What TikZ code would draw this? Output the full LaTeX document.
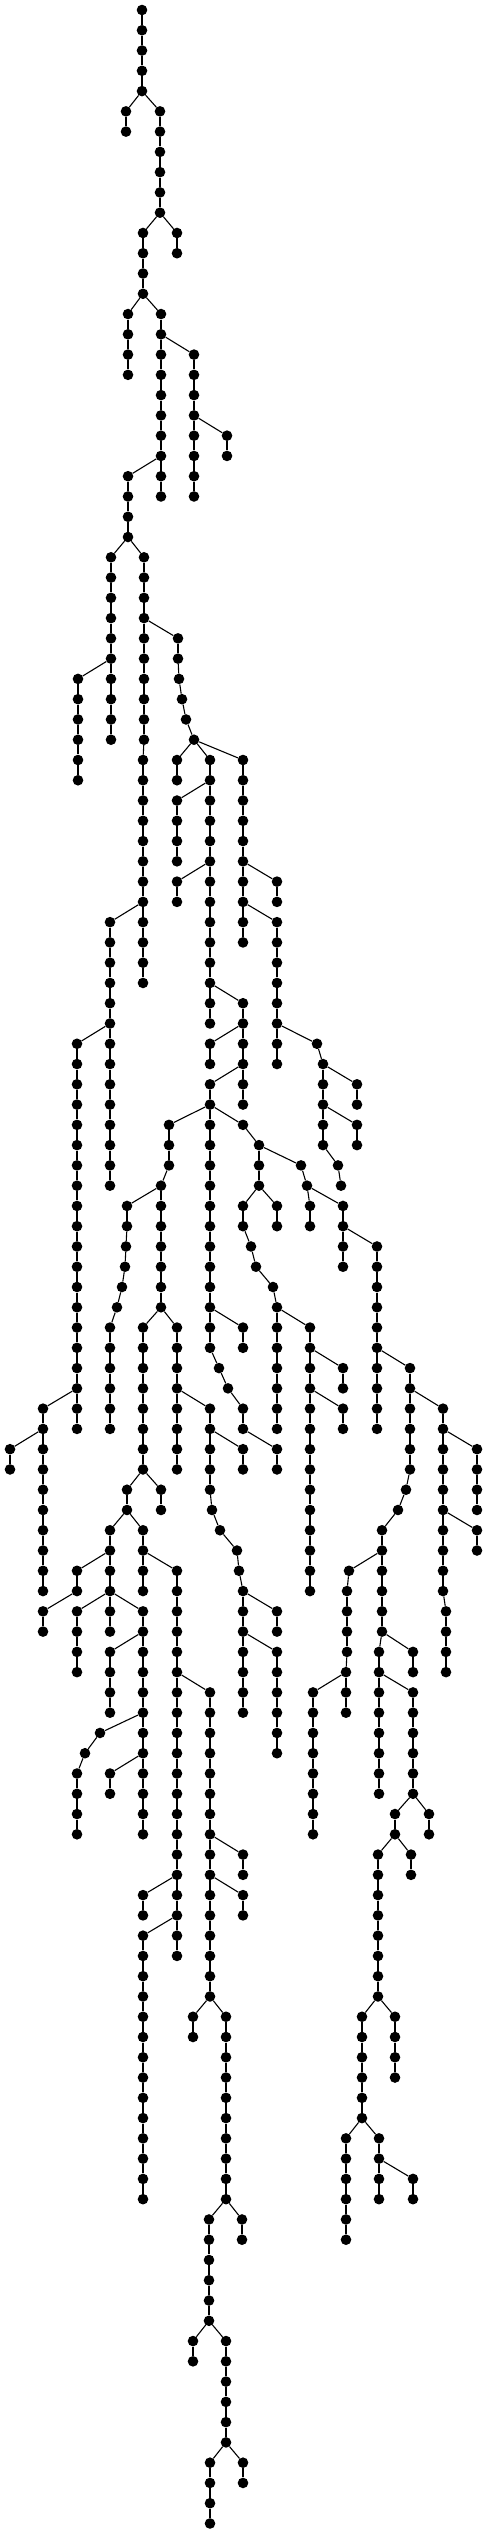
\documentclass[tikz,border=0pt]{standalone}
\usepackage{tikz}
\tikzset{
  dot/.style={circle, fill=black, draw=none, inner sep=0pt, minimum size=10.6pt},
  edge/.style={line width=1.1pt, black}
}
\newcommand\T[4]{\node[dot] (r#1c#2) at (#2,#1) {};\draw[edge] (r#3c#4) -- (r#1c#2);}
\newcommand\V[3]{\foreach \rr [evaluate=\rr as \pp using int(\rr-1)] in {#2,...,#3}{\node[dot] (r\rr c#1) at (#1,\rr) {};\draw[edge] (r\pp c#1) -- (r\rr c#1);}}
\begin{document}
\begin{tikzpicture}[x=1pt,y=-20.27pt]
\useasboundingbox (0,-0.4933) rectangle (487,124.47);
\node[dot] (r0c142) at (142,0) {};
\V{142}{1}{4}
\T{5}{126}{4}{142} \V{126}{6}{6}
\T{5}{160}{4}{142} \V{160}{6}{10}
\T{11}{177}{10}{160} \V{177}{12}{12}
\T{11}{143}{10}{160} \V{143}{12}{14}
\T{15}{128}{14}{143} \V{128}{16}{18}
\T{15}{161}{14}{143} \V{161}{16}{24}
\T{17}{194}{16}{161} \V{194}{18}{24}
\T{21}{227}{20}{194} \V{227}{22}{22}
\T{23}{128}{22}{161} \V{128}{24}{26}
\T{27}{111}{26}{128} \V{111}{28}{36}
\T{33}{78}{32}{111} \V{78}{34}{38}
\T{27}{144}{26}{128} \V{144}{28}{36}
\T{37}{143}{36}{144} \V{143}{38}{48}
\T{31}{178}{30}{144} \V{178}{32}{32}
\T{33}{179}{32}{178} \T{34}{182}{33}{179} \T{35}{186}{34}{182} \T{36}{194}{35}{186}
\T{37}{177}{36}{194} \V{177}{38}{38}
\T{37}{210}{36}{194} \V{210}{38}{50}
\T{39}{177}{38}{210} \V{177}{40}{42}
\T{43}{177}{42}{210} \V{177}{44}{44}
\T{37}{243}{36}{194} \V{243}{38}{46}
\T{43}{277}{42}{243} \V{277}{44}{44}
\T{45}{277}{44}{243} \V{277}{46}{52}
\T{45}{110}{44}{143} \V{110}{46}{58}
\T{49}{243}{48}{210} \V{243}{50}{50}
\T{51}{210}{50}{243} \V{210}{52}{52}
\V{243}{51}{52}
\T{53}{210}{52}{243} \V{210}{54}{54}
\V{243}{53}{54}
\T{55}{169}{54}{210} \V{169}{56}{57}
\V{210}{55}{66}
\T{55}{243}{54}{210}
\T{56}{259}{55}{243} \V{259}{57}{58}
\T{59}{243}{58}{259} \V{243}{60}{60}
\T{61}{251}{60}{243} \T{62}{256}{61}{251} \T{63}{273}{62}{256} \T{64}{277}{63}{273} \V{277}{65}{70}
\T{59}{277}{58}{259} \V{277}{60}{60}
\T{57}{301}{56}{259} \T{58}{307}{57}{301} \T{59}{310}{58}{307} \V{310}{60}{60}
\T{59}{343}{58}{307} \V{343}{60}{62}
\T{61}{377}{60}{343} \V{377}{62}{70}
\T{65}{310}{64}{277} \V{310}{66}{78}
\T{67}{343}{66}{310} \V{343}{68}{68}
\T{69}{343}{68}{310} \V{343}{70}{70}
\T{67}{410}{66}{377} \V{410}{68}{72}
\T{69}{443}{68}{410} \V{443}{70}{78}
\T{79}{446}{78}{443} \V{446}{80}{82}
\T{71}{477}{70}{443} \V{477}{72}{74}
\T{75}{477}{74}{443} \V{477}{76}{76}
\T{73}{406}{72}{410} \T{74}{398}{73}{406} \T{75}{382}{74}{398} \V{382}{76}{80}
\T{81}{379}{80}{382} \V{379}{82}{88}
\T{77}{349}{76}{382} \T{78}{347}{77}{349} \V{347}{79}{81} \T{82}{346}{81}{347} \V{346}{83}{84}
\T{83}{313}{82}{346} \V{313}{84}{90}
\T{81}{413}{80}{382} \V{413}{82}{82}
\T{83}{413}{82}{379} \V{413}{84}{88}
\T{89}{395}{88}{413} \V{395}{90}{90}
\T{89}{429}{88}{413} \V{429}{90}{90}
\T{91}{378}{90}{395} \V{378}{92}{98}
\T{91}{411}{90}{395} \V{411}{92}{92}
\T{99}{362}{98}{378} \V{362}{100}{104}
\T{99}{395}{98}{378} \V{395}{100}{102}
\T{105}{346}{104}{362} \V{346}{106}{110}
\T{105}{379}{104}{362} \V{379}{106}{108}
\T{107}{413}{106}{379} \V{413}{108}{108}
\T{51}{317}{50}{277} \T{52}{323}{51}{317} \V{323}{53}{56}
\T{53}{357}{52}{323} \V{357}{54}{54}
\T{55}{357}{54}{323} \V{357}{56}{56}
\T{57}{338}{56}{323} \T{58}{341}{57}{338}
\T{51}{77}{50}{110} \V{77}{52}{70}
\T{69}{43}{68}{77} \V{43}{70}{78}
\T{71}{10}{70}{43} \V{10}{72}{72}
\T{58}{161}{57}{169}
\T{59}{127}{58}{161} \V{127}{60}{60} \T{61}{126}{60}{127} \T{62}{125}{61}{126} \T{63}{122}{62}{125} \T{64}{117}{63}{122} \T{65}{110}{64}{117} \V{110}{66}{70}
\V{161}{59}{64}
\T{65}{143}{64}{161} \V{143}{66}{72}
\T{65}{177}{64}{161} \V{177}{66}{72}
\T{73}{127}{72}{143} \V{127}{74}{74}
\T{73}{161}{72}{143} \V{161}{74}{74}
\T{75}{110}{74}{127} \V{110}{76}{80}
\T{75}{143}{74}{127} \V{143}{76}{78}
\T{77}{77}{76}{110} \V{77}{78}{78}
\T{79}{43}{78}{77} \V{43}{80}{80}
\T{79}{77}{78}{110} \V{77}{80}{82}
\T{79}{143}{78}{110} \V{143}{80}{90}
\T{77}{177}{76}{143} \V{177}{78}{96}
\T{81}{110}{80}{143} \V{110}{82}{84}
\T{85}{100}{84}{143} \T{86}{85}{85}{100} \T{87}{77}{86}{85} \V{77}{88}{90}
\T{87}{110}{86}{143} \V{110}{88}{88}
\T{83}{210}{82}{177} \V{210}{84}{98}
\T{69}{210}{68}{177} \V{210}{70}{73}
\T{74}{212}{73}{210} \T{75}{220}{74}{212} \T{76}{237}{75}{220} \T{77}{239}{76}{237} \T{78}{243}{77}{239} \V{243}{79}{84}
\T{71}{243}{70}{210} \V{243}{72}{72}
\T{67}{219}{66}{210} \T{68}{228}{67}{219} \T{69}{243}{68}{228} \V{243}{70}{70} \T{71}{277}{70}{243} \V{277}{72}{72}
\T{65}{243}{64}{210} \V{243}{66}{66}
\T{79}{277}{78}{243} \V{277}{80}{80}
\T{81}{277}{80}{243} \V{277}{82}{86}
\T{91}{243}{90}{210} \V{243}{92}{92}
\T{93}{243}{92}{210} \V{243}{94}{94}
\T{93}{143}{92}{177} \V{143}{94}{94}
\T{95}{143}{94}{177} \V{143}{96}{108}
\T{99}{193}{98}{210} \V{193}{100}{100}
\T{99}{226}{98}{210} \V{226}{100}{108}
\T{109}{209}{108}{226} \V{209}{110}{114}
\T{109}{242}{108}{226} \V{242}{110}{110}
\T{115}{193}{114}{209} \V{193}{116}{116}
\T{115}{226}{114}{209} \V{226}{116}{120}
\T{121}{210}{120}{226} \V{210}{122}{124}
\T{121}{243}{120}{226} \V{243}{122}{122}
\end{tikzpicture}
\end{document}
